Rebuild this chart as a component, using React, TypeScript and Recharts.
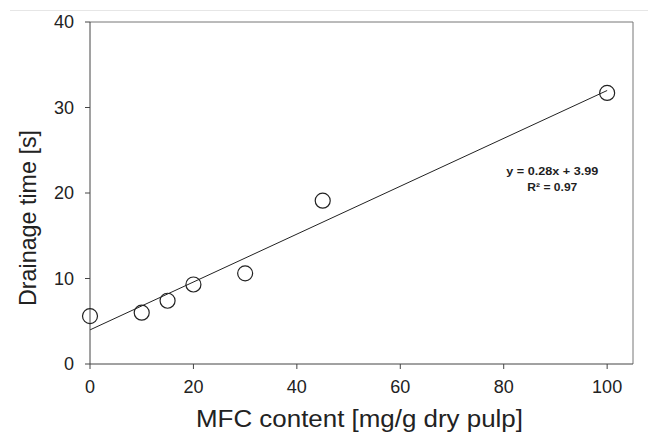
import { ScatterChart, Scatter, XAxis, YAxis, ReferenceLine, ReferenceDot } from 'recharts';

const mfcContent = [0, 10, 15, 20, 30, 45, 100];
const drainageTime = [5.6, 6.0, 7.4, 9.3, 10.6, 19.1, 31.7];
const xTicks = [0, 20, 40, 60, 80, 100];
const yTicks = [0, 10, 20, 30, 40];
const fitSlope = 0.28;
const fitIntercept = 3.99;
const fitRange = [0, 100];
const fitLines = ['y = 0.28x + 3.99', 'R² = 0.97'];

const points = mfcContent.map((x, i) => ({ x, y: drainageTime[i] }));
const fitSegment = fitRange.map((x) => ({ x, y: fitSlope * x + fitIntercept }));

const axisColor = '#444';
const font = 'Arial, "Liberation Sans", sans-serif';

const Circle = (p: any) => (
  <circle cx={p.cx} cy={p.cy} r={7.5} fill="none" stroke="#222" strokeWidth={1.2} />
);

// the source figure is stretched a little sideways, so the titles get a fixed length
const XTitle = () => (
  <text
    x={359.5}
    y={427}
    textAnchor="middle"
    fontSize={23}
    fontFamily={font}
    fill="#222"
    textLength={327}
    lengthAdjust="spacingAndGlyphs"
  >
    MFC content [mg/g dry pulp]
  </text>
);

const YTitle = () => (
  <text
    x={27.5}
    y={218}
    transform="rotate(-90 27.5 218)"
    textAnchor="middle"
    dominantBaseline="central"
    fontSize={24}
    fontFamily={font}
    fill="#222"
    textLength={176}
    lengthAdjust="spacingAndGlyphs"
  >
    Drainage time [s]
  </text>
);

const FitLabel = (props: any) => {
  const { x, y } = props.viewBox || {};
  return (
    <g fontSize={11.5} fontFamily={font} fill="#1e1e1e" fontWeight={600}>
      <text x={x} y={y + 4} textAnchor="middle" textLength={92} lengthAdjust="spacingAndGlyphs">
        {fitLines[0]}
      </text>
      <text x={x} y={y + 20} textAnchor="middle" textLength={50} lengthAdjust="spacingAndGlyphs">
        {fitLines[1]}
      </text>
    </g>
  );
};

export default function App() {
  return (
    <div style={{ position: 'absolute', left: 0, top: 0, width: 648, height: 432, background: '#fff' }}>
      <div style={{ position: 'absolute', left: 10, top: 10, width: 638, height: 1, background: '#e6e6e6' }} />
      <ScatterChart width={648} height={432} margin={{ top: 22, right: 15, left: 0, bottom: 0 }}>
        <XAxis
          type="number"
          dataKey="x"
          domain={[0, 105]}
          ticks={xTicks}
          height={68}
          tickSize={5}
          tickMargin={11}
          stroke={axisColor}
          tick={{ fill: '#222', fontSize: 18, fontFamily: font }}
          label={{ content: () => <XTitle /> }}
        />
        <YAxis
          type="number"
          dataKey="y"
          domain={[0, 40]}
          ticks={yTicks}
          width={90}
          tickSize={5}
          tickMargin={11}
          stroke={axisColor}
          tick={{ fill: '#222', fontSize: 18, fontFamily: font }}
          label={{ content: () => <YTitle /> }}
        />
        <ReferenceLine y={40} stroke="#777" strokeWidth={1} />
        <ReferenceLine x={105} stroke="#777" strokeWidth={1} />
        <ReferenceLine segment={fitSegment} stroke="#222" strokeWidth={1} />
        <ReferenceDot x={89.4} y={22.6} r={0} fill="none" stroke="none" label={{ content: FitLabel }} />
        <Scatter data={points} shape={Circle} isAnimationActive={false} />
      </ScatterChart>
    </div>
  );
}
